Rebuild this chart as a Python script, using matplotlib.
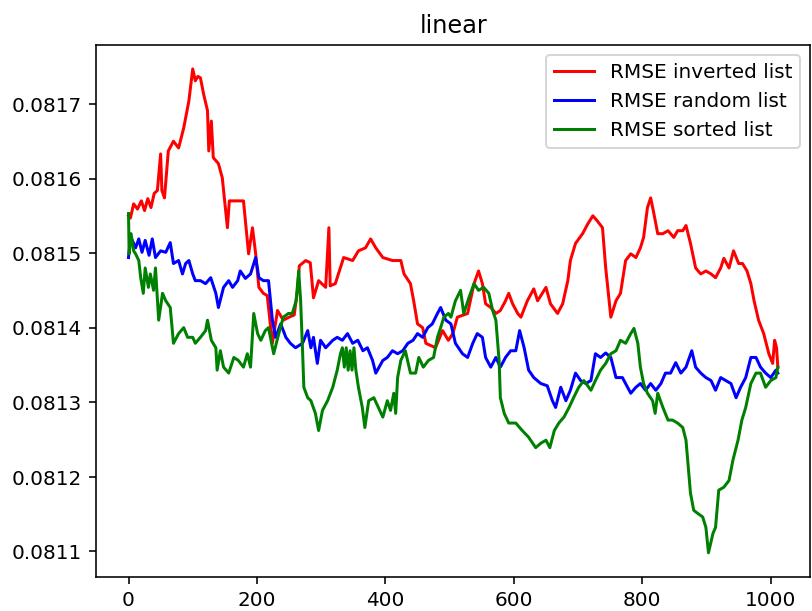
import matplotlib
matplotlib.use("Agg")
import matplotlib.pyplot as plt

title = "linear"
labels = ["RMSE inverted list", "RMSE random list", "RMSE sorted list"]
colors = ["red", "blue", "green"]

inv_x = [0, 3, 8, 14, 20, 25, 30, 35, 40, 45, 50, 52, 56, 62, 70, 78, 86, 94, 100, 104, 108, 112,
         117, 123, 125, 129, 132, 140, 146, 154, 157, 170, 179, 182, 187, 193, 198, 203, 210, 216,
         224, 232, 241, 250, 258, 263, 266, 276, 283, 288, 296, 307, 312, 314, 322, 335, 349, 358,
         369, 377, 385, 396, 411, 424, 429, 439, 444, 450, 458, 463, 478, 489, 498, 505, 512, 528,
         538, 545, 551, 556, 564, 572, 579, 587, 592, 598, 606, 611, 621, 631, 637, 650, 657, 668,
         676, 684, 688, 696, 707, 715, 723, 730, 738, 743, 751, 759, 766, 774, 782, 790, 797, 802,
         808, 813, 818, 824, 832, 840, 849, 855, 863, 868, 875, 883, 891, 899, 907, 914, 922, 927,
         935, 942, 950, 956, 963, 969, 974, 981, 989, 997, 1003, 1006, 1009, 1011]
inv_y = [0.081550, 0.081547, 0.081566, 0.081559, 0.081570, 0.081557, 0.081573, 0.081561, 0.081580,
         0.081584, 0.081633, 0.081584, 0.081574, 0.081637, 0.081650, 0.081641, 0.081668, 0.081704,
         0.081747, 0.081731, 0.081737, 0.081735, 0.081713, 0.081691, 0.081637, 0.081677, 0.081628,
         0.081620, 0.081601, 0.081534, 0.081570, 0.081570, 0.081570, 0.081543, 0.081499, 0.081534,
         0.081499, 0.081454, 0.081446, 0.081443, 0.081379, 0.081423, 0.081410, 0.081414, 0.081417,
         0.081450, 0.081483, 0.081490, 0.081487, 0.081440, 0.081463, 0.081454, 0.081534, 0.081456,
         0.081459, 0.081494, 0.081490, 0.081503, 0.081507, 0.081519, 0.081507, 0.081494, 0.081490,
         0.081490, 0.081472, 0.081459, 0.081436, 0.081405, 0.081400, 0.081379, 0.081373, 0.081396,
         0.081383, 0.081392, 0.081414, 0.081419, 0.081459, 0.081476, 0.081459, 0.081432, 0.081427,
         0.081419, 0.081423, 0.081436, 0.081446, 0.081432, 0.081419, 0.081414, 0.081436, 0.081452,
         0.081436, 0.081454, 0.081432, 0.081419, 0.081432, 0.081463, 0.081490, 0.081513, 0.081526,
         0.081539, 0.081550, 0.081543, 0.081534, 0.081480, 0.081414, 0.081436, 0.081446, 0.081490,
         0.081499, 0.081494, 0.081507, 0.081521, 0.081561, 0.081574, 0.081553, 0.081526, 0.081526,
         0.081530, 0.081521, 0.081530, 0.081530, 0.081537, 0.081513, 0.081480, 0.081472, 0.081476,
         0.081472, 0.081467, 0.081480, 0.081493, 0.081480, 0.081503, 0.081486, 0.081486, 0.081476,
         0.081459, 0.081436, 0.081410, 0.081392, 0.081365, 0.081352, 0.081383, 0.081373, 0.081347]

rnd_x = [0, 3, 6, 11, 16, 21, 26, 32, 37, 42, 50, 58, 65, 70, 78, 84, 89, 94, 100, 104, 112, 120,
         128, 136, 140, 148, 156, 162, 170, 174, 182, 190, 198, 203, 210, 218, 224, 229, 237, 245,
         252, 260, 271, 279, 284, 288, 294, 299, 307, 318, 325, 333, 341, 349, 357, 365, 372, 380,
         385, 396, 403, 411, 419, 427, 435, 443, 450, 458, 466, 473, 481, 486, 494, 502, 509, 520,
         528, 536, 543, 551, 556, 564, 572, 579, 587, 595, 603, 609, 616, 623, 631, 642, 652, 660,
         665, 673, 681, 688, 696, 704, 712, 720, 727, 735, 743, 751, 759, 769, 782, 790, 797, 805,
         813, 821, 829, 836, 844, 852, 860, 868, 877, 883, 891, 899, 907, 914, 922, 930, 938, 946,
         953, 961, 969, 977, 984, 992, 1000, 1008, 1011]
rnd_y = [0.081494, 0.081521, 0.081517, 0.081507, 0.081519, 0.081501, 0.081517, 0.081497, 0.081519,
         0.081494, 0.081503, 0.081501, 0.081514, 0.081486, 0.081490, 0.081472, 0.081486, 0.081490,
         0.081472, 0.081463, 0.081463, 0.081459, 0.081467, 0.081446, 0.081427, 0.081454, 0.081463,
         0.081454, 0.081463, 0.081476, 0.081466, 0.081472, 0.081494, 0.081467, 0.081463, 0.081463,
         0.081410, 0.081387, 0.081405, 0.081387, 0.081379, 0.081373, 0.081379, 0.081396, 0.081373,
         0.081387, 0.081352, 0.081383, 0.081373, 0.081383, 0.081387, 0.081383, 0.081392, 0.081379,
         0.081383, 0.081369, 0.081373, 0.081356, 0.081339, 0.081356, 0.081360, 0.081369, 0.081365,
         0.081369, 0.081379, 0.081383, 0.081392, 0.081387, 0.081400, 0.081405, 0.081419, 0.081427,
         0.081410, 0.081405, 0.081379, 0.081365, 0.081360, 0.081379, 0.081392, 0.081387, 0.081360,
         0.081347, 0.081360, 0.081347, 0.081360, 0.081369, 0.081369, 0.081396, 0.081373, 0.081343,
         0.081333, 0.081325, 0.081322, 0.081302, 0.081293, 0.081320, 0.081302, 0.081316, 0.081339,
         0.081329, 0.081325, 0.081329, 0.081365, 0.081360, 0.081366, 0.081360, 0.081333, 0.081333,
         0.081312, 0.081320, 0.081325, 0.081316, 0.081325, 0.081316, 0.081325, 0.081339, 0.081339,
         0.081353, 0.081339, 0.081347, 0.081369, 0.081347, 0.081339, 0.081333, 0.081329, 0.081316,
         0.081333, 0.081329, 0.081325, 0.081306, 0.081320, 0.081333, 0.081360, 0.081360, 0.081347,
         0.081339, 0.081333, 0.081343, 0.081339]

srt_x = [0, 1, 4, 8, 11, 16, 19, 23, 26, 31, 34, 39, 42, 47, 53, 58, 65, 70, 78, 86, 92, 100, 104,
         112, 120, 123, 129, 136, 138, 143, 148, 156, 164, 171, 179, 185, 190, 195, 201, 206, 213,
         218, 226, 234, 241, 249, 255, 261, 265, 268, 271, 273, 279, 284, 291, 296, 302, 310, 318,
         325, 330, 333, 336, 339, 342, 345, 348, 351, 354, 358, 364, 368, 374, 382, 389, 396, 403,
         408, 413, 416, 419, 424, 431, 439, 447, 452, 459, 467, 475, 481, 486, 491, 498, 502, 509,
         517, 522, 530, 538, 545, 553, 561, 567, 572, 577, 579, 585, 592, 603, 613, 623, 634, 642,
         650, 656, 663, 670, 678, 686, 693, 701, 709, 720, 727, 735, 743, 751, 759, 766, 774, 782,
         787, 793, 797, 802, 808, 816, 820, 824, 832, 840, 847, 855, 863, 868, 871, 875, 880, 886,
         894, 899, 903, 910, 914, 919, 927, 935, 941, 949, 955, 961, 969, 977, 984, 992, 1000, 1008,
         1011]
srt_y = [0.081553, 0.081499, 0.081526, 0.081503, 0.081499, 0.081490, 0.081467, 0.081446, 0.081480,
         0.081454, 0.081472, 0.081450, 0.081480, 0.081410, 0.081446, 0.081436, 0.081427, 0.081379,
         0.081392, 0.081400, 0.081387, 0.081387, 0.081379, 0.081387, 0.081396, 0.081410, 0.081383,
         0.081373, 0.081343, 0.081369, 0.081347, 0.081339, 0.081360, 0.081356, 0.081347, 0.081365,
         0.081347, 0.081419, 0.081392, 0.081383, 0.081396, 0.081400, 0.081365, 0.081392, 0.081414,
         0.081419, 0.081419, 0.081436, 0.081476, 0.081436, 0.081369, 0.081320, 0.081306, 0.081302,
         0.081285, 0.081262, 0.081289, 0.081302, 0.081320, 0.081343, 0.081365, 0.081373, 0.081347,
         0.081373, 0.081343, 0.081369, 0.081343, 0.081373, 0.081343, 0.081320, 0.081293, 0.081266,
         0.081302, 0.081306, 0.081293, 0.081280, 0.081302, 0.081289, 0.081312, 0.081285, 0.081333,
         0.081356, 0.081369, 0.081339, 0.081339, 0.081360, 0.081347, 0.081356, 0.081360, 0.081387,
         0.081400, 0.081414, 0.081419, 0.081414, 0.081436, 0.081450, 0.081419, 0.081440, 0.081459,
         0.081450, 0.081454, 0.081446, 0.081423, 0.081410, 0.081356, 0.081306, 0.081285, 0.081272,
         0.081272, 0.081262, 0.081253, 0.081239, 0.081245, 0.081249, 0.081239, 0.081262, 0.081272,
         0.081280, 0.081293, 0.081306, 0.081320, 0.081329, 0.081316, 0.081329, 0.081343, 0.081352,
         0.081365, 0.081369, 0.081383, 0.081379, 0.081392, 0.081399, 0.081379, 0.081347, 0.081325,
         0.081312, 0.081302, 0.081285, 0.081312, 0.081293, 0.081276, 0.081276, 0.081272, 0.081266,
         0.081249, 0.081218, 0.081178, 0.081155, 0.081151, 0.081146, 0.081132, 0.081098, 0.081124,
         0.081132, 0.081182, 0.081186, 0.081195, 0.081222, 0.081249, 0.081276, 0.081293, 0.081325,
         0.081339, 0.081339, 0.081320, 0.081329, 0.081333, 0.081347]

DPI = 144
fig = plt.figure(figsize=(812.3 / DPI, 611.3 / DPI), dpi=DPI)
ax = fig.add_axes([96 / 812, 34 / 611, 714 / 812, 532 / 611])

ax.plot(inv_x, inv_y, color=colors[0], label=labels[0])
ax.plot(rnd_x, rnd_y, color=colors[1], label=labels[1])
ax.plot(srt_x, srt_y, color=colors[2], label=labels[2])

ax.ticklabel_format(axis="y", useOffset=False)
ax.set_title(title)
ax.legend(loc="upper right")

fig.savefig("out.png", dpi=DPI)
